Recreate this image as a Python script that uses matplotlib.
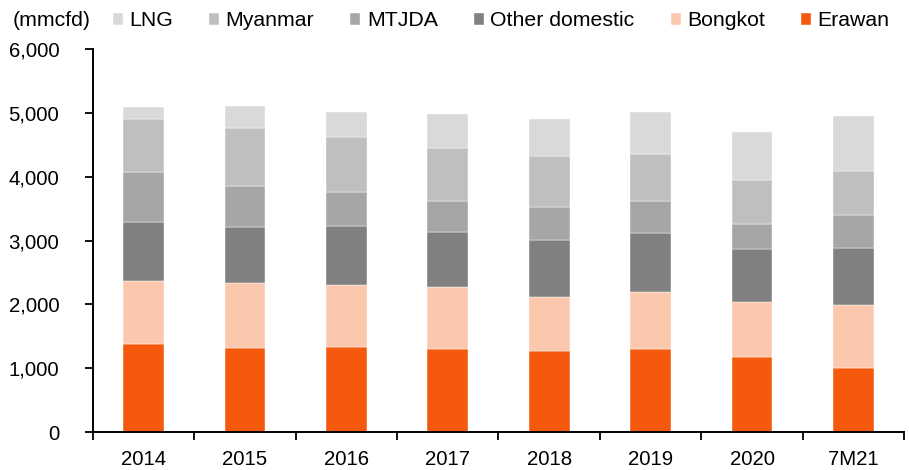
import matplotlib
matplotlib.use("Agg")
import matplotlib.pyplot as plt
import numpy as np
from matplotlib.ticker import FuncFormatter, FixedLocator

categories = ["2014", "2015", "2016", "2017", "2018", "2019", "2020", "7M21"]
erawan = [1387, 1313, 1329, 1309, 1277, 1309, 1179, 1006]
bongkot = [983, 1026, 983, 967, 847, 885, 855, 981]
other_domestic = [929, 877, 920, 867, 885, 922, 831, 905]
mtjda = [773, 637, 527, 475, 515, 502, 392, 506]
myanmar = [842, 920, 868, 841, 810, 743, 701, 690]
lng = [188, 345, 392, 528, 580, 658, 747, 862]

series = [
    ("Erawan", erawan, "#F4590D"),
    ("Bongkot", bongkot, "#FBC8AE"),
    ("Other domestic", other_domestic, "#808080"),
    ("MTJDA", mtjda, "#A6A6A6"),
    ("Myanmar", myanmar, "#BFBFBF"),
    ("LNG", lng, "#D9D9D9"),
]

plt.rcParams['font.family'] = ['Liberation Sans', 'DejaVu Sans']

W, H = 909, 470
fig = plt.figure(figsize=(W / 100, H / 100), dpi=100)
ax = fig.add_axes([92.7 / W, 1 - 432 / H, (904.3 - 92.7) / W, (432 - 49.3) / H])

x = np.arange(len(categories))
bottom = np.zeros(len(categories))
handles = {}
for name, vals, col in series:
    b = ax.bar(x, vals, width=0.4, bottom=bottom, color=col, edgecolor='white', linewidth=0.3, label=name)
    handles[name] = b
    bottom += np.array(vals)

ax.set_xlim(-0.5, len(categories) - 0.5)
ax.set_ylim(0, 6000)
ax.set_yticks(np.arange(0, 6001, 1000))
ax.yaxis.set_major_formatter(FuncFormatter(lambda v, p: f"{int(v):,}"))
ax.set_xticks(x)
ax.set_xticklabels(categories)
ax.xaxis.set_minor_locator(FixedLocator(np.arange(-0.5, len(categories), 1.0)))
ax.tick_params(axis='x', which='major', length=0, pad=13, labelsize=14.7)
ax.tick_params(axis='x', which='minor', length=6, width=1.3, direction='out')
ax.tick_params(axis='y', which='major', length=6, width=1.3, direction='out', pad=18, labelsize=14.7)

for s in ['top', 'right']:
    ax.spines[s].set_visible(False)
for s in ['left', 'bottom']:
    ax.spines[s].set_linewidth(1.4)

order = ["LNG", "Myanmar", "MTJDA", "Other domestic", "Bongkot", "Erawan"]
fig.legend([handles[n] for n in order], order, ncol=6, loc='center left',
           bbox_to_anchor=(113 / W, 1 - 21 / H), frameon=False, fontsize=15.3,
           handlelength=0.47, handleheight=0.47, handletextpad=0.3,
           columnspacing=1.7, borderpad=0, borderaxespad=0)
fig.text(13 / W, 1 - 21 / H, "(mmcfd)", fontsize=15.3, va='center', ha='left')

fig.savefig("out.png", dpi=100)
